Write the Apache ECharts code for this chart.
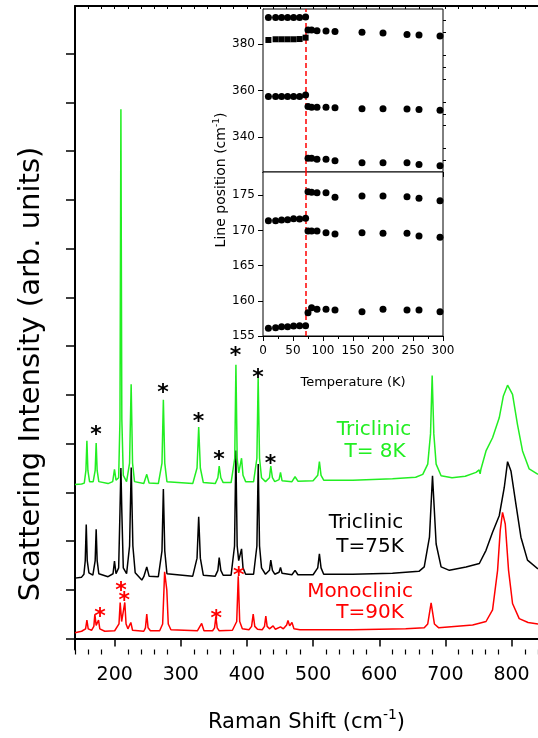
<!DOCTYPE html>
<html><head><meta charset="utf-8">
<script src="https://cdn.jsdelivr.net/npm/echarts@6/dist/echarts.min.js"></script>
<style>html,body{margin:0;padding:0;background:#fff}#c{width:538px;height:738px}</style>
</head><body><div id="c"></div>
<script>
// ---------- main spectra: [Raman shift (cm-1), intensity (arb. units, offset)] ----------
const green8K = [[140,3.16],[150,3.17],[154,3.19],[156.5,3.45],[158,4.06],[159.5,3.45],[162,3.22],[167.5,3.22],[170.5,3.45],[172,4.01],[173.5,3.45],[176,3.22],[190,3.18],[197,3.22],[199.7,3.47],[202,3.25],[206,3.3],[208,4.5],[209.4,10.86],[210.8,4.5],[213,3.35],[218,3.22],[222.5,3.6],[224.9,5.22],[227,3.6],[230,3.22],[244,3.18],[248.5,3.37],[252,3.19],[266,3.18],[271.5,3.6],[273.6,4.9],[275.7,3.6],[279,3.22],[318,3.18],[324.5,3.5],[327,4.34],[329.5,3.5],[334,3.2],[352,3.18],[356,3.3],[358,3.54],[360.5,3.3],[364,3.2],[376,3.2],[381.5,3.7],[383.3,5.62],[385.2,3.7],[387.5,3.4],[391.8,3.7],[394,3.35],[398,3.22],[410,3.22],[415,3.7],[416.9,5.35],[419,3.7],[422,3.3],[428,3.22],[434,3.3],[436,3.54],[438.5,3.3],[442,3.22],[448.5,3.26],[450.7,3.41],[453,3.24],[468,3.22],[472.7,3.32],[477,3.23],[500,3.24],[507,3.35],[509.5,3.63],[512,3.35],[516,3.25],[560,3.25],[620,3.28],[655,3.31],[665.8,3.37],[673.3,3.58],[677.5,4.2],[680,5.4],[682.5,4.2],[686,3.58],[693.5,3.34],[710,3.3],[730,3.33],[746.3,3.41],[751,3.46],[752.5,3.38],[753.8,3.48],[761.4,3.85],[771.3,4.12],[781.4,4.53],[787.5,4.97],[794,5.2],[801.5,5.01],[809,4.39],[816.6,3.85],[826.7,3.48],[840,3.37]];
const black75K = [[140,1.24],[150,1.26],[153.5,1.32],[155.5,1.6],[157,2.34],[158.5,1.6],[161,1.35],[167,1.3],[170.5,1.6],[172,2.24],[173.5,1.6],[176,1.33],[190,1.27],[197.5,1.33],[199.7,1.59],[202,1.33],[206,1.45],[208,2.6],[209.4,3.5],[210.8,2.6],[213,1.45],[218,1.33],[222.5,1.9],[225,3.51],[227.5,1.9],[231,1.35],[241,1.2],[244,1.27],[248.5,1.47],[252,1.28],[266,1.27],[271.5,1.8],[273.6,3.07],[275.7,1.8],[279,1.33],[318,1.28],[324.5,1.65],[327,2.5],[329.5,1.65],[334,1.3],[352,1.28],[356,1.4],[358,1.66],[360.5,1.4],[364,1.3],[376,1.3],[381.2,1.9],[383.2,3.86],[385.2,1.9],[387.5,1.6],[391.8,1.84],[394,1.45],[398,1.32],[410,1.32],[415,1.9],[417,3.58],[419,1.9],[422,1.45],[428,1.32],[434,1.4],[436,1.61],[438.5,1.4],[442,1.32],[448.5,1.36],[450.7,1.46],[453,1.34],[468,1.31],[472.7,1.4],[477,1.31],[500,1.31],[507,1.45],[509.5,1.74],[512,1.45],[516,1.32],[560,1.32],[620,1.34],[660,1.38],[668,1.47],[675.9,2.08],[680.5,3.34],[686,1.94],[693.5,1.47],[706,1.4],[731.2,1.47],[751.3,1.54],[761.4,1.81],[771.3,2.18],[781.4,2.52],[789,3.1],[794,3.63],[799.1,3.44],[806.6,2.76],[814.2,2.08],[824.1,1.61],[840,1.43]];
const red90K = [[140,0.12],[150,0.15],[156,0.2],[158,0.38],[160,0.2],[165,0.17],[168.5,0.25],[170,0.5],[172,0.27],[173.8,0.3],[175.6,0.38],[177.5,0.2],[185,0.15],[200,0.16],[206.5,0.3],[208.3,0.74],[210.5,0.35],[213.5,0.32],[215.3,0.74],[217.2,0.3],[220,0.2],[224.4,0.33],[227,0.17],[244,0.15],[246.5,0.22],[248.5,0.5],[250.5,0.22],[254,0.16],[268,0.16],[272.5,0.3],[274.5,1.0],[275.5,1.37],[277.5,1.37],[278.8,1.0],[281,0.3],[285,0.18],[325,0.16],[331.5,0.31],[335,0.16],[348,0.16],[351,0.22],[353,0.45],[355,0.22],[358,0.16],[378,0.17],[384.5,0.35],[386.8,1.28],[389,0.35],[393,0.2],[403,0.18],[407,0.25],[409.4,0.5],[411.8,0.25],[416,0.19],[423,0.18],[426.5,0.25],[428.5,0.46],[430.5,0.25],[434,0.2],[439.5,0.26],[443,0.19],[450.7,0.24],[455,0.2],[460,0.28],[462,0.37],[464.5,0.26],[466,0.28],[468,0.33],[471,0.2],[480,0.18],[560,0.18],[640,0.2],[668,0.22],[673.3,0.3],[678.4,0.73],[683.4,0.3],[690,0.22],[741.2,0.28],[761.4,0.35],[771.3,0.59],[778.9,1.4],[782.9,2.22],[786.4,2.59],[790.5,2.35],[795.5,1.4],[801.5,0.72],[811.6,0.41],[825,0.33],[840,0.3]];
// star markers (peak annotations)
const blackStars = [[171.7,4.29],[273.2,5.16],[326.6,4.57],[357.6,3.78],[382.8,5.92],[416.5,5.46],[435.6,3.70]];
const redStars = [[177.7,0.57],[209.4,1.10],[214.4,0.89],[353.7,0.52],[387.4,1.40]];
// axis ticks
const ramanMajorTicks = [200,300,400,500,600,700,800];
const ramanMinorTicks = [140,160,180,220,240,260,280,320,340,360,380,420,440,460,480,520,540,560,580,620,640,660,680,720,740,760,780,820,840];
const intensityTicks = [0,1,2,3,4,5,6,7,8,9,10,11,12];

// ---------- inset: line positions vs temperature ----------
const tempLow = [9,21,31,41,51,61,71];
const tempHigh = [75,81,90,105,120,165,200,240,260,295];
const transitionT = 72;
const lowRow391 = [391.4,391.4,391.4,391.4,391.4,391.4,391.6];
const lowRow382sq = [381.7,382.0,382.0,382.0,382.0,382.1,382.7];
const lowRow357 = [357.4,357.4,357.4,357.4,357.4,357.4,358.1];
const highRow385 = [386.0,386.0,385.7,385.6,385.3,385.0,384.7,384.1,383.8,383.4];
const highRow352 = [353.1,352.8,352.8,352.8,352.6,352.2,352.2,352.1,351.8,351.5];
const highRow330 = [330.9,330.9,330.5,330.5,329.8,329.0,329.0,329.0,328.2,327.7];
const lowRow171 = [171.38,171.38,171.48,171.52,171.67,171.62,171.72];
const lowRow156 = [156.10,156.18,156.33,156.33,156.43,156.47,156.47];
const highRow175 = [175.50,175.42,175.36,175.36,174.71,174.89,174.89,174.79,174.56,174.22];
const highRow169 = [169.92,169.92,169.92,169.68,169.49,169.68,169.59,169.59,169.21,169.02];
const highRow158 = [158.31,159.02,158.80,158.80,158.70,158.46,158.80,158.70,158.70,158.46];
const topPanelMajor = [340,360,380];
const topPanelMinor = [330,335,345,350,355,365,370,375,385,390];
const botPanelMajor = [155,160,165,170,175];
const botPanelMinor = [156,157,158,159,161,162,163,164,166,167,168,169,171,172,173,174,176,177,178];

const FF = 'DejaVu Sans';
const GREEN = '#22ee22';
const zip = (xs, ys) => xs.map((x, i) => [x, ys[i]]);

const chart = echarts.init(document.getElementById('c'), null, {renderer: 'canvas'});

function spectrum(data, color) {
  return {type: 'line', data, xAxisIndex: 0, yAxisIndex: 0, symbol: 'none', smooth: false,
    lineStyle: {color, width: 1.5}, z: 3, silent: true};
}
function stars(data, color) {
  return {type: 'scatter', data, xAxisIndex: 0, yAxisIndex: 0, symbol: 'circle', symbolSize: 1,
    itemStyle: {color: 'rgba(0,0,0,0)'}, z: 5, silent: true,
    label: {show: true, position: 'inside', formatter: '*', color, opacity: 1, fontSize: 22, fontWeight: 'bold', fontFamily: FF, offset: [0, 6]}};
}
function pts(data, xi, yi, symbol, size) {
  return {type: 'scatter', data, xAxisIndex: xi, yAxisIndex: yi, symbol, symbolSize: size,
    itemStyle: {color: '#000', opacity: 1}, z: 6, silent: true};
}
const dashed = {silent: true, symbol: ['none', 'none'], label: {show: false},
  lineStyle: {color: '#ff0000', type: [5, 3], width: 1.5, opacity: 1}, data: [{xAxis: transitionT}]};

const option = {
  animation: false,
  backgroundColor: '#fff',
  grid: [
    {left: 75, top: 6, width: 464, height: 647},
    {left: 263, top: 9, width: 180, height: 163, show: true, backgroundColor: '#fff', borderColor: '#000', borderWidth: 1, z: 4},
    {left: 263, top: 172, width: 180, height: 164, show: true, backgroundColor: '#fff', borderColor: '#000', borderWidth: 1, z: 4}
  ],
  xAxis: [
    {type: 'value', gridIndex: 0, position: 'bottom', min: 140, max: 840,
      axisLine: {lineStyle: {color: '#000', width: 2}},
      axisTick: {customValues: ramanMajorTicks, length: 8, lineStyle: {color: '#000', width: 1.5}},
      axisLabel: {customValues: ramanMajorTicks, color: '#000', fontSize: 19, fontFamily: FF, margin: 16},
      splitLine: {show: false},
      name: '{a|Raman Shift (cm}{s|-1}{a|)}', nameLocation: 'middle', nameGap: 59,
      nameTextStyle: {rich: {a: {fontSize: 21, fontFamily: FF, color: '#000', lineHeight: 28},
        s: {fontSize: 14, fontFamily: FF, color: '#000', verticalAlign: 'top', lineHeight: 14}}}},
    {type: 'value', gridIndex: 0, position: 'bottom', min: 140, max: 840,
      axisLine: {show: false},
      axisTick: {customValues: ramanMinorTicks, length: 5, lineStyle: {color: '#000', width: 1.2}},
      axisLabel: {show: false}, splitLine: {show: false}},
    {type: 'value', gridIndex: 0, position: 'top', min: 140, max: 840,
      axisLine: {lineStyle: {color: '#000', width: 2}},
      axisTick: {customValues: ramanMinorTicks.concat(ramanMajorTicks), inside: true, length: 3, lineStyle: {color: '#000', width: 1}},
      axisLabel: {show: false}, splitLine: {show: false}},
    {type: 'value', gridIndex: 1, position: 'bottom', min: 0, max: 300, interval: 50,
      axisLine: {lineStyle: {color: '#000', width: 1}}, axisTick: {show: false}, axisLabel: {show: false}, splitLine: {show: false}},
    {type: 'value', gridIndex: 2, position: 'bottom', min: 0, max: 300, interval: 50,
      axisLine: {lineStyle: {color: '#000', width: 1}},
      axisTick: {length: 5, lineStyle: {color: '#000'}},
      minorTick: {show: true, splitNumber: 2, length: 3, lineStyle: {color: '#000'}},
      axisLabel: {color: '#000', fontSize: 12, fontFamily: FF, margin: 9},
      splitLine: {show: false},
      name: 'Temperature (K)', nameLocation: 'middle', nameGap: 40,
      nameTextStyle: {color: '#000', fontSize: 13, fontFamily: FF}},
    {type: 'value', gridIndex: 2, position: 'top', min: 0, max: 300, interval: 50,
      axisLine: {lineStyle: {color: '#000', width: 1}},
      axisTick: {inside: true, length: 5, lineStyle: {color: '#000'}},
      minorTick: {show: true, splitNumber: 2, length: 3, lineStyle: {color: '#000'}},
      axisLabel: {show: false}, splitLine: {show: false}}
  ],
  yAxis: [
    {type: 'value', gridIndex: 0, min: -0.2245, max: 12.98,
      axisLine: {show: true, lineStyle: {color: '#000', width: 2}},
      axisTick: {show: true, customValues: intensityTicks, length: 9, lineStyle: {color: '#000', width: 1.5}},
      axisLabel: {show: false}, splitLine: {show: false}},
    {type: 'value', gridIndex: 1, min: 325, max: 395,
      axisLine: {show: true, lineStyle: {color: '#000', width: 1}},
      axisTick: {show: true, customValues: topPanelMajor, length: 5, lineStyle: {color: '#000'}},
      axisLabel: {customValues: topPanelMajor, color: '#000', fontSize: 12, fontFamily: FF, margin: 8},
      splitLine: {show: false}},
    {type: 'value', gridIndex: 1, min: 325, max: 395,
      axisLine: {show: false},
      axisTick: {show: true, customValues: topPanelMinor, length: 3, lineStyle: {color: '#000'}},
      axisLabel: {show: false}, splitLine: {show: false}},
    {type: 'value', gridIndex: 2, min: 155, max: 178.3,
      axisLine: {show: true, lineStyle: {color: '#000', width: 1}},
      axisTick: {show: true, customValues: botPanelMajor, length: 5, lineStyle: {color: '#000'}},
      axisLabel: {customValues: botPanelMajor, color: '#000', fontSize: 12, fontFamily: FF, margin: 8},
      splitLine: {show: false}},
    {type: 'value', gridIndex: 2, min: 155, max: 178.3,
      axisLine: {show: false},
      axisTick: {show: true, customValues: botPanelMinor, length: 3, lineStyle: {color: '#000'}},
      axisLabel: {show: false}, splitLine: {show: false}}
  ],
  graphic: [
    {type: 'text', x: 31, y: 374, rotation: Math.PI / 2, z: 10,
      style: {text: 'Scattering Intensity (arb. units)', fill: '#000', fontSize: 29, fontFamily: FF, align: 'center', verticalAlign: 'middle'}},
    {type: 'text', x: 221, y: 180, rotation: Math.PI / 2, z: 10,
      style: {text: '{a|Line position (cm}{s|-1}{a|)}', align: 'center', verticalAlign: 'middle',
        rich: {a: {fontSize: 14, fontFamily: FF, fill: '#000', lineHeight: 18}, s: {fontSize: 9, fontFamily: FF, fill: '#000', verticalAlign: 'top', lineHeight: 9}}}},
    {type: 'text', x: 374, y: 430, z: 10, style: {text: 'Triclinic', fill: GREEN, fontSize: 20, fontFamily: FF, align: 'center', verticalAlign: 'middle'}},
    {type: 'text', x: 375, y: 452, z: 10, style: {text: 'T= 8K', fill: GREEN, fontSize: 20, fontFamily: FF, align: 'center', verticalAlign: 'middle'}},
    {type: 'text', x: 366, y: 523, z: 10, style: {text: 'Triclinic', fill: '#000', fontSize: 20, fontFamily: FF, align: 'center', verticalAlign: 'middle'}},
    {type: 'text', x: 370, y: 547, z: 10, style: {text: 'T=75K', fill: '#000', fontSize: 20, fontFamily: FF, align: 'center', verticalAlign: 'middle'}},
    {type: 'text', x: 360, y: 592, z: 10, style: {text: 'Monoclinic', fill: '#ff0000', fontSize: 20, fontFamily: FF, align: 'center', verticalAlign: 'middle'}},
    {type: 'text', x: 370, y: 613, z: 10, style: {text: 'T=90K', fill: '#ff0000', fontSize: 20, fontFamily: FF, align: 'center', verticalAlign: 'middle'}}
  ],
  series: [
    spectrum(black75K, '#000000'),
    spectrum(red90K, '#ff0000'),
    spectrum(green8K, GREEN),
    stars(blackStars, '#000'),
    stars(redStars, '#ff0000'),
    Object.assign(pts(zip(tempLow, lowRow391), 3, 1, 'circle', 7), {markLine: dashed}),
    pts(zip(tempLow, lowRow382sq), 3, 1, 'rect', 6),
    pts(zip(tempLow, lowRow357), 3, 1, 'circle', 7),
    pts(zip(tempHigh, highRow385), 3, 1, 'circle', 7),
    pts(zip(tempHigh, highRow352), 3, 1, 'circle', 7),
    pts(zip(tempHigh, highRow330), 3, 1, 'circle', 7),
    Object.assign(pts(zip(tempLow, lowRow171), 4, 3, 'circle', 7), {markLine: dashed}),
    pts(zip(tempLow, lowRow156), 4, 3, 'circle', 7),
    pts(zip(tempHigh, highRow175), 4, 3, 'circle', 7),
    pts(zip(tempHigh, highRow169), 4, 3, 'circle', 7),
    pts(zip(tempHigh, highRow158), 4, 3, 'circle', 7)
  ]
};
chart.setOption(option);
</script></body></html>
